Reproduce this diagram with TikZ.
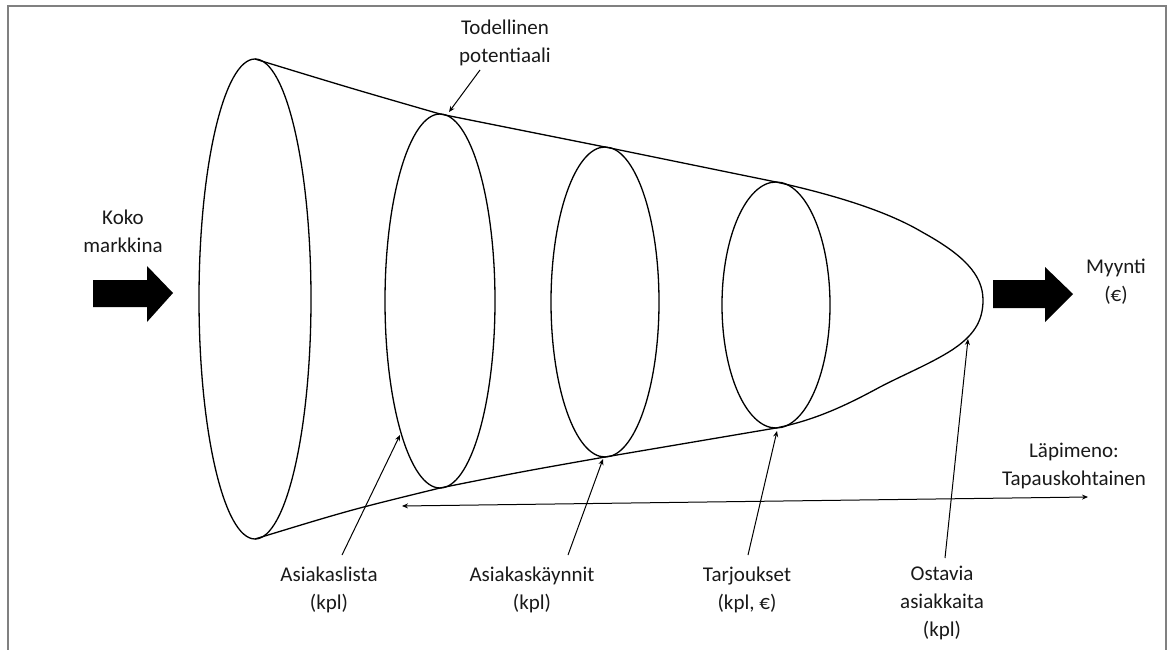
\documentclass[tikz,border=0pt]{standalone}
\usepackage{fontspec}
\setmainfont{Carlito}
\usetikzlibrary{arrows.meta}
\begin{document}
\begin{tikzpicture}[x=1pt,y=-1pt,
  lbl/.style={font=\fontsize{21}{28}\selectfont, align=center, text=black!90, inner sep=0pt},
  pointer/.style={line width=1pt, -{Stealth[length=6pt,width=5pt]}},
  funnel/.style={line width=1.3pt},
  blockarrow/.style={fill=black, draw=none}]
\useasboundingbox (0,0) rectangle (1167,650);
% frame
\draw[gray, line width=2.5pt] (8,651) -- (8,6) -- (1166,6) -- (1166,651);
% ellipses
\draw[funnel] (255,299) ellipse [x radius=56, y radius=240];
\draw[funnel] (440,301) ellipse [x radius=55, y radius=187];
\draw[funnel] (605,302) ellipse [x radius=54, y radius=155];
\draw[funnel] (776,305) ellipse [x radius=54, y radius=123];
% funnel outline
\draw[funnel] (255,59) .. controls (350,88) .. (440,114)
  .. controls (520,130) .. (605,147)
  .. controls (690,164) .. (776,182)
  .. controls (830,194) and (885,210) .. (922,232)
  .. controls (962,254) and (983,274) .. (983,300)
  .. controls (983,322) and (973,336) .. (952,350)
  .. controls (930,364) and (905,374) .. (880,387)
  .. controls (845,406) and (815,420) .. (776,428)
  .. controls (690,442) .. (605,457)
  .. controls (520,472) .. (440,488)
  .. controls (350,510) .. (255,539);
% block arrows
\fill[blockarrow] (93,280) -- (147,280) -- (147,266) -- (173,293) -- (147,322) -- (147,307) -- (93,307) -- cycle;
\fill[blockarrow] (993,280) -- (1045,280) -- (1045,267) -- (1073,294) -- (1045,322) -- (1045,308) -- (993,308) -- cycle;
% labels
\node[lbl] (todl) at (505,43) {Todellinen\\potentiaali};
\node[lbl] (koko) at (123,231) {Koko\\markkina};
\node[lbl] (myynti) at (1116,282) {Myynti\\(€)};
\node[lbl] (lapi) at (1074,466) {Läpimeno:\\Tapauskohtainen};
\node[lbl] (al) at (329,590) {Asiakaslista\\(kpl)};
\node[lbl] (ak) at (532,590) {Asiakaskäynnit\\(kpl)};
\node[lbl] (tj) at (747,590) {Tarjoukset\\(kpl, €)};
\node[lbl] (os) at (942,603) {Ostavia\\asiakkaita\\(kpl)};
% pointer coordinates
\coordinate (todlS) at (480,70);  \coordinate (todlE) at (449,112);
\coordinate (alS) at (342,555);   \coordinate (alE) at (400,435);
\coordinate (akS) at (568,555);   \coordinate (akE) at (603,459);
\coordinate (tjS) at (748,555);   \coordinate (tjE) at (777,431);
\coordinate (osS) at (945,558);   \coordinate (osE) at (968,339);
\coordinate (lapL) at (402,506);  \coordinate (lapR) at (1088,497);
\draw[pointer] (todlS) -- (todlE);
\draw[pointer] (alS) -- (alE);
\draw[pointer] (akS) -- (akE);
\draw[pointer] (tjS) -- (tjE);
\draw[pointer] (osS) -- (osE);
\draw[line width=1pt, {Stealth[length=6pt,width=5pt]}-{Stealth[length=6pt,width=5pt]}] (lapL) -- (lapR);
\end{tikzpicture}
\end{document}
